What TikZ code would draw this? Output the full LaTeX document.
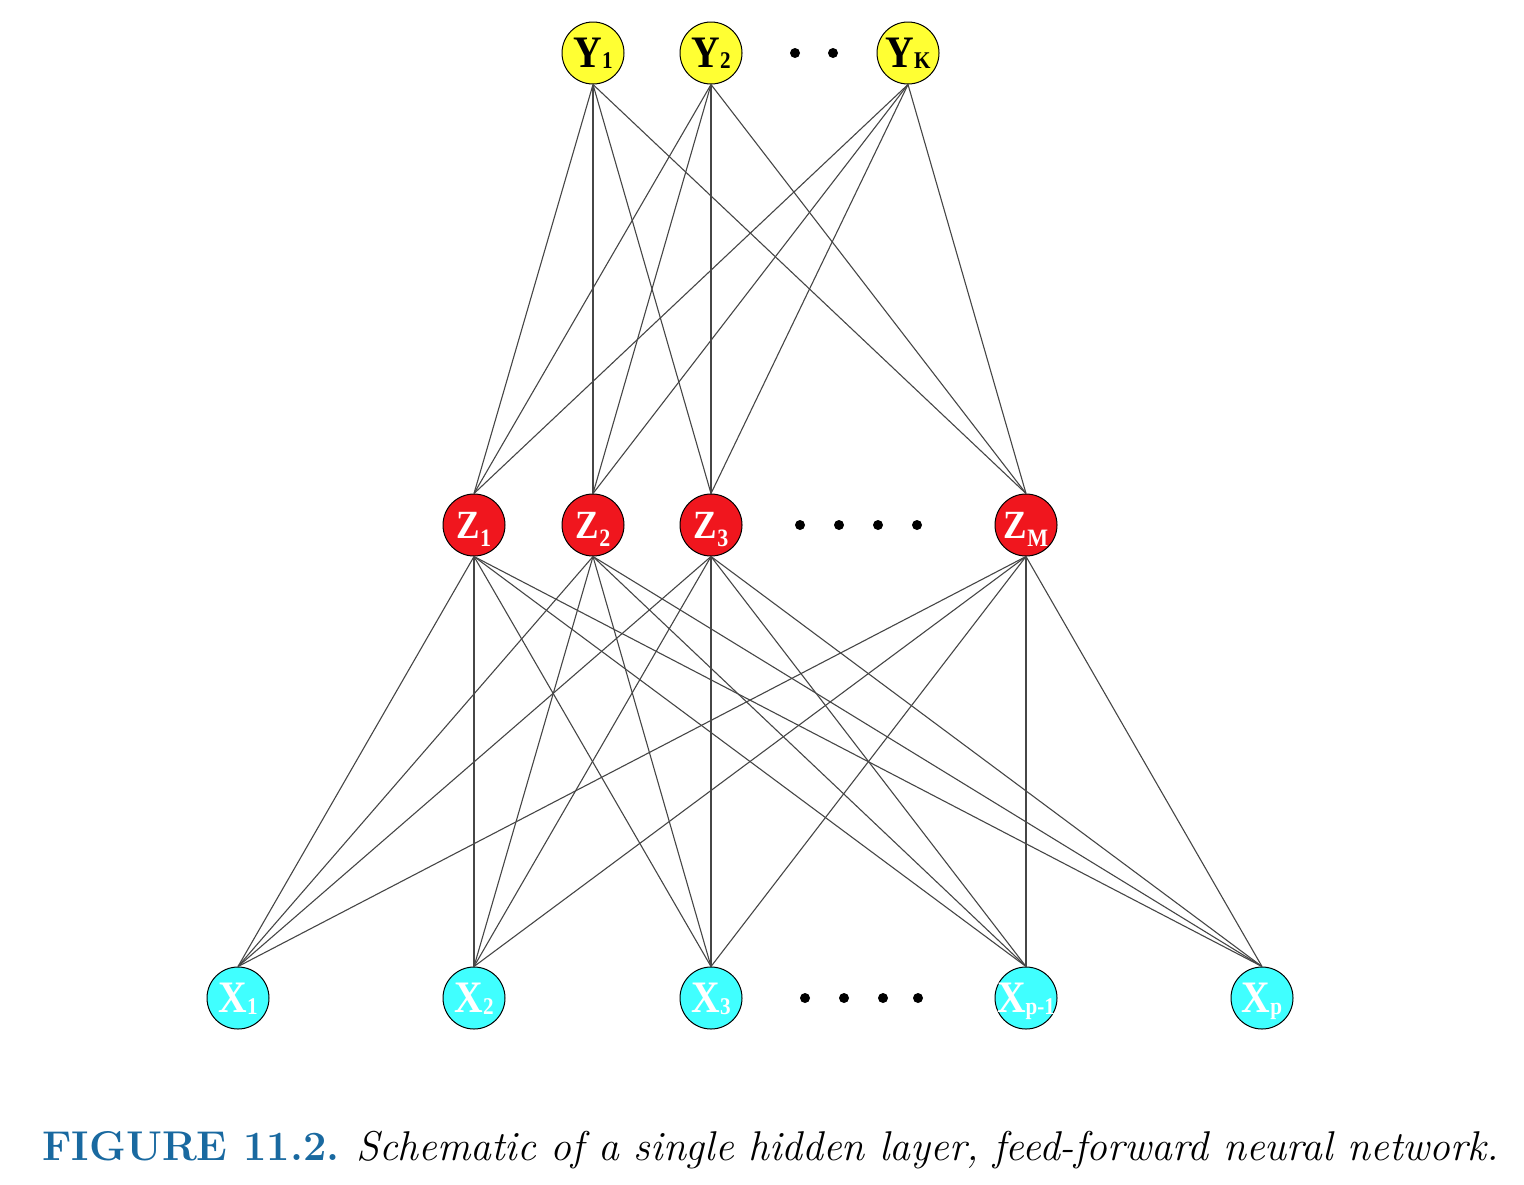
\documentclass[tikz,border=0pt]{standalone}
\usepackage{fontspec}
\newfontfamily\lblfont{Liberation Serif}
\definecolor{ycol}{RGB}{255,255,51}
\definecolor{zcol}{RGB}{240,22,30}
\definecolor{xcol}{RGB}{64,255,255}
\definecolor{capblue}{RGB}{25,105,160}
\definecolor{edgecol}{RGB}{70,70,70}
% #1 main letter, #2 subscript, #3 main size, #4 sub size, #5 sub drop, #6 whole shift
\newcommand{\nlbl}[6]{\raisebox{#6}{\makebox[0pt]{\scalebox{0.88}[1]{\lblfont\bfseries\fontsize{#3}{#3}\selectfont #1\raisebox{#5}[0pt][0pt]{\fontsize{#4}{#4}\selectfont #2}}}}}
\newcommand{\ylbl}[1]{\nlbl{Y}{#1}{22.5}{12}{-0.6pt}{-1.8pt}}
\newcommand{\zlbl}[1]{\nlbl{Z}{#1}{20}{12.5}{-4pt}{0pt}}
\newcommand{\xlbl}[1]{\nlbl{X}{#1}{22.5}{12}{-1pt}{-1.5pt}}
\begin{document}
\begin{tikzpicture}[x=0.5pt,y=-0.5pt,
  neuron/.style={circle,draw=black,line width=0.5pt,minimum size=31pt,inner sep=0pt},
  ynode/.style={neuron,fill=ycol,text=black},
  znode/.style={neuron,fill=zcol,text=white},
  xnode/.style={neuron,fill=xcol,text=white},
  edge/.style={draw=edgecol,line width=0.55pt},
  dotmark/.style={circle,fill=black,inner sep=0pt,minimum size=5pt}]
\useasboundingbox (0,0) rectangle (1524,1184);
% output layer
\node[ynode] (y1) at (593,53) {\ylbl{1}};
\node[ynode] (y2) at (711,53) {\ylbl{2}};
\node[ynode] (yk) at (908,53) {\ylbl{K}};
\node[dotmark] (yd1) at (795,53) {};
\node[dotmark] (yd2) at (833,53) {};
% hidden layer
\node[znode] (z1) at (474,525) {\zlbl{1}};
\node[znode] (z2) at (593,525) {\zlbl{2}};
\node[znode] (z3) at (711,525) {\zlbl{3}};
\node[znode] (zm) at (1026,525) {\zlbl{M}};
\node[dotmark] (zd1) at (800,525) {};
\node[dotmark] (zd2) at (839,525) {};
\node[dotmark] (zd3) at (878,525) {};
\node[dotmark] (zd4) at (917,525) {};
% input layer
\node[xnode] (x1) at (238,998) {\xlbl{1}};
\node[xnode] (x2) at (474,998) {\xlbl{2}};
\node[xnode] (x3) at (711,998) {\xlbl{3}};
\node[xnode] (xp1) at (1026,998) {\xlbl{p-1}};
\node[xnode] (xp) at (1262,998) {\xlbl{p}};
\node[dotmark] (xd1) at (805,998) {};
\node[dotmark] (xd2) at (844,998) {};
\node[dotmark] (xd3) at (883,998) {};
\node[dotmark] (xd4) at (918,998) {};
% connections
\foreach \y in {y1,y2,yk}{
  \foreach \z in {z1,z2,z3,zm}{
    \draw[edge] (\y.south) -- (\z.north);
  }
}
\foreach \z in {z1,z2,z3,zm}{
  \foreach \x in {x1,x2,x3,xp1,xp}{
    \draw[edge] (\z.south) -- (\x.north);
  }
}
% caption
\node[anchor=base west,inner sep=0pt] (cap) at (42,1160)
  {\fontsize{20.8}{24}\selectfont{\bfseries\color{capblue}FIGURE 11.2.} \itshape Schematic of a single hidden layer, feed-forward neural network.};
\end{tikzpicture}
\end{document}
